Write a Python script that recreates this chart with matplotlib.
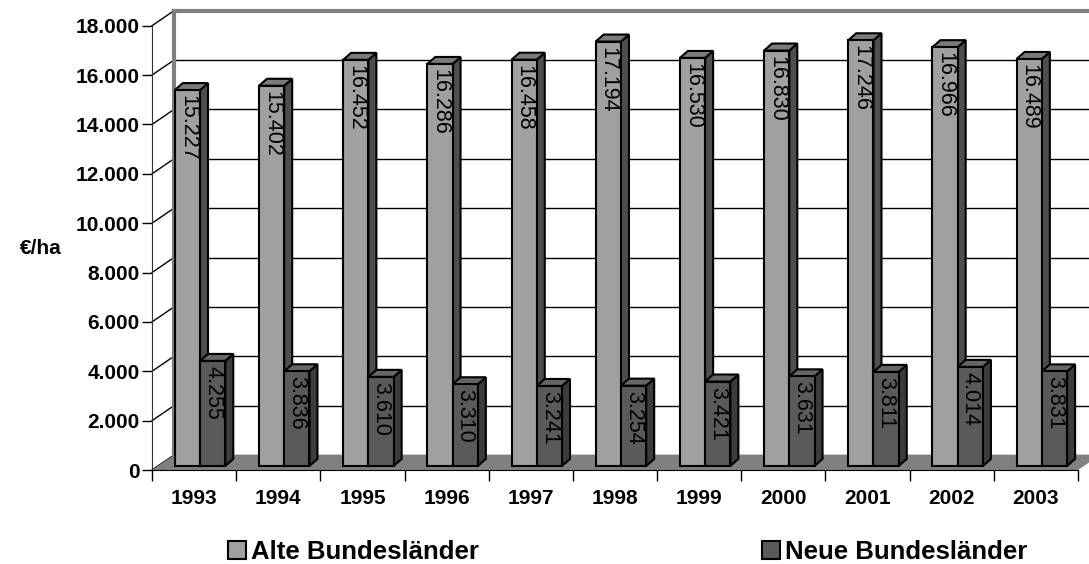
import matplotlib
matplotlib.use("Agg")
import matplotlib.pyplot as plt
from matplotlib.patches import Polygon, Patch
import numpy as np

# Werte (€/ha) aus der Vorlage
jahre = ["1993", "1994", "1995", "1996", "1997", "1998", "1999", "2000", "2001", "2002", "2003"]
alte = [15227, 15402, 16452, 16286, 16458, 17194, 16530, 16830, 17246, 16966, 16489]
neue = [4255, 3836, 3610, 3310, 3241, 3254, 3421, 3631, 3811, 4014, 3831]
serien = ["Alte Bundesländer", "Neue Bundesländer"]
y_ticks = list(range(0, 18001, 2000))

plt.rcParams['font.family'] = ['Liberation Sans', 'DejaVu Sans']

W, H = 1089, 564
fig = plt.figure(figsize=(W / 100, H / 100), dpi=100)
ax = fig.add_axes([152 / W, 94 / H, 926 / W, 444.3 / H])
ax.set_xlim(-0.5, 10.5)
ax.set_ylim(0, 18000)

# pixel -> daten
px_x = 11 / 926.0
px_y = 18000 / 444.3
dx, dy = 22 * px_x, 15 * px_y          # tiefe der rueckwand
bdx, bdy = 8 * px_x, 7 * px_y          # tiefe der saeulen
bz = 0.27                              # lage der saeulen in der tiefe
ox, oy = bz * dx, bz * dy

# rueckwand
ax.add_patch(Polygon([(-0.5 + dx, dy), (12 + dx, dy), (12 + dx, 18000 + dy), (-0.5 + dx, 18000 + dy)],
                     closed=True, facecolor='white', edgecolor='none', zorder=0, clip_on=False))
for v in y_ticks:
    ax.plot([-0.5 + dx, 12], [v + dy, v + dy], color='black', lw=1.0, zorder=1, clip_on=False)
    ax.plot([-0.5, -0.5 + dx], [v, v + dy], color='black', lw=1.0, zorder=1, clip_on=False)
ax.plot([-0.5 + dx, -0.5 + dx], [dy, 18000 + dy], color='#808080', lw=3, zorder=2, clip_on=False)
ax.plot([-0.5 + dx, 12], [18000 + dy, 18000 + dy], color='#808080', lw=3, zorder=2, clip_on=False)

# boden
ax.add_patch(Polygon([(-0.5, 0), (10.5, 0), (10.5 + dx, dy), (-0.5 + dx, dy)],
                     closed=True, facecolor='#808080', edgecolor='none', zorder=2, clip_on=False))


def saeule(x0, w, h, front, top, side, z):
    x1 = x0 + w
    b = oy
    t = oy + h
    ax.add_patch(Polygon([(x1, b), (x1, t), (x1 + bdx, t + bdy), (x1 + bdx, b + bdy)], closed=True,
                         facecolor=side, edgecolor='black', lw=1.5, zorder=z, clip_on=False))
    ax.add_patch(Polygon([(x0, t), (x1, t), (x1 + bdx, t + bdy), (x0 + bdx, t + bdy)], closed=True,
                         facecolor=top, edgecolor='black', lw=1.5, zorder=z, clip_on=False))


x = np.arange(len(jahre))
bw = 0.3
xa = x - bw / 2 + ox
xn = x + bw / 2 + ox
for i in range(len(jahre)):
    saeule(xa[i] - bw / 2, bw, alte[i], '#a0a0a0', '#7a7a7a', '#4e4e4e', 3)
ax.bar(xa, alte, width=bw, bottom=oy, color='#a0a0a0', edgecolor='black', lw=1.5, zorder=4)
for i in range(len(jahre)):
    saeule(xn[i] - bw / 2, bw, neue[i], '#5a5a5a', '#666666', '#3c3c3c', 5)
ax.bar(xn, neue, width=bw, bottom=oy, color='#5a5a5a', edgecolor='black', lw=1.5, zorder=6)

for i in range(len(jahre)):
    for xp, v in ((xa[i], alte[i]), (xn[i], neue[i])):
        ax.annotate(f"{v:,}".replace(',', '.'), xy=(xp, v + oy), xytext=(0, -5),
                    textcoords='offset pixels', rotation=-90, ha='center', va='top',
                    fontsize=15.5, color='black', zorder=8)

# achsen
for s in ['top', 'right']:
    ax.spines[s].set_visible(False)
ax.spines['left'].set_color('#333333')
ax.spines['bottom'].set_color('black')
ax.spines['left'].set_zorder(7)
ax.spines['bottom'].set_zorder(7)
ax.set_yticks(y_ticks)
ax.set_yticklabels([f"{v:,}".replace(',', '.') for v in y_ticks], fontsize=15, fontweight='bold')
ax.tick_params(axis='y', length=7, width=1, pad=2)
ax.set_xticks(x)
ax.set_xticklabels(jahre, fontsize=15, fontweight='bold')
ax.tick_params(axis='x', which='major', length=0, pad=14)
ax.set_xticks(np.arange(-0.5, 10.6, 1.0), minor=True)
ax.tick_params(axis='x', which='minor', length=8, width=1)
ax.patch.set_visible(False)

fig.text(62 / W, 1 - 249 / H, "€/ha", ha='right', va='center', fontsize=15, fontweight='bold')

handles = [Patch(facecolor='#a0a0a0', edgecolor='black', lw=1.5),
           Patch(facecolor='#5a5a5a', edgecolor='black', lw=1.5)]
fig.legend(handles, serien, loc='center left', bbox_to_anchor=(228 / W, 1 - 552 / H), ncol=2,
           frameon=False, prop={'size': 18.5, 'weight': 'bold'}, handlelength=0.7, handleheight=0.7,
           handletextpad=0.2, columnspacing=11.0, borderpad=0, borderaxespad=0)

fig.savefig("out.png", dpi=100)
